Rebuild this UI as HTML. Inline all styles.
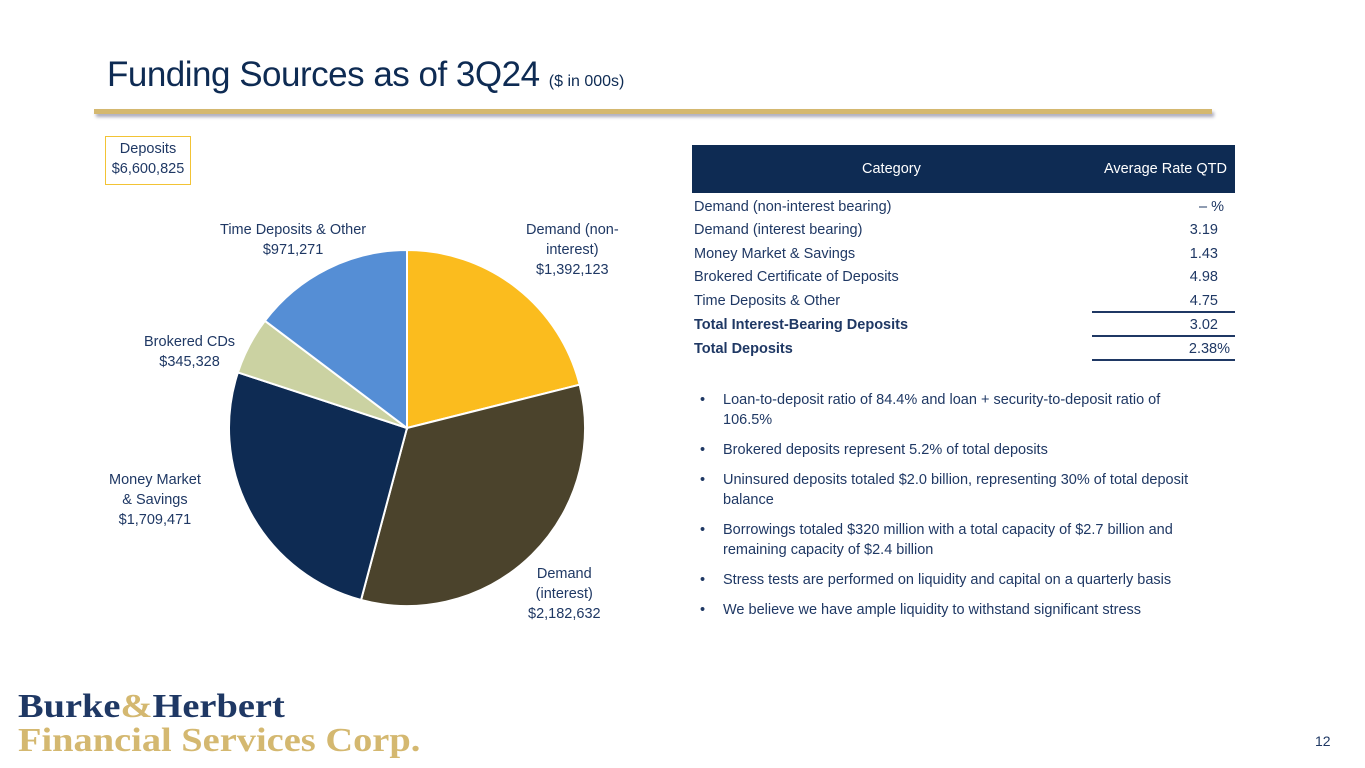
<!DOCTYPE html>
<html><head><meta charset="utf-8">
<style>
body{margin:0;width:1365px;height:768px;background:#fff;position:relative;overflow:hidden;font-family:"Liberation Sans",sans-serif;color:#1F3864}
.abs{position:absolute}
.lbl{position:absolute;font-size:14.5px;text-align:center;color:#1F3864;line-height:20px;white-space:nowrap}
.row{position:absolute;left:694px;width:536px;font-size:14.5px;height:20px;line-height:20px}
.row span{position:absolute;right:6px}
.ul{position:absolute;left:1092px;width:143px;height:2px;background:#1F3864}
ul{margin:0;padding:0;list-style:none}
li{position:relative;padding-left:29px;font-size:14.5px;line-height:20px;margin-bottom:10px;color:#1F3864}
li:before{content:"•";position:absolute;left:6px}
</style></head><body>
<div class="abs" style="left:107px;top:55px;font-size:35px;color:#0E2B53;white-space:nowrap;letter-spacing:-0.5px">Funding Sources as of 3Q24 <span style="font-size:16px;letter-spacing:0">($ in 000s)</span></div>
<div class="abs" style="left:94px;top:109px;width:1118px;height:5px;background:#D4B870;box-shadow:2px 3px 3px #aab"></div>
<div class="abs" style="left:105px;top:136px;width:84px;height:45px;border:1px solid #F2C335;font-size:14.5px;text-align:center;line-height:20px;padding-top:2px;white-space:nowrap">Deposits<br>$6,600,825</div>
<svg class="abs" style="left:0;top:0" width="1365" height="768"><g id="pie"></g></svg>
<div class="lbl" style="left:526px;top:220px">Demand (non-<br>interest)<br>$1,392,123</div>
<div class="lbl" style="left:528px;top:564px">Demand<br>(interest)<br>$2,182,632</div>
<div class="lbl" style="left:109px;top:470px">Money Market<br>&amp; Savings<br>$1,709,471</div>
<div class="lbl" style="left:144px;top:332px">Brokered CDs<br>$345,328</div>
<div class="lbl" style="left:220px;top:220px">Time Deposits &amp; Other<br>$971,271</div>

<div class="abs" style="left:692px;top:145px;width:543px;height:48px;background:#0E2B53;color:#fff;font-size:14.5px;line-height:48px">
<span style="position:absolute;left:170px">Category</span><span style="position:absolute;right:8px">Average Rate QTD</span></div>
<div class="row" style="top:197px">Demand (non-interest bearing)<span>– %</span></div>
<div class="row" style="top:220px">Demand (interest bearing)<span style="right:12px">3.19</span></div>
<div class="row" style="top:244px">Money Market &amp; Savings<span style="right:12px">1.43</span></div>
<div class="row" style="top:267px">Brokered Certificate of Deposits<span style="right:12px">4.98</span></div>
<div class="row" style="top:291px">Time Deposits &amp; Other<span style="right:12px">4.75</span></div>
<div class="ul" style="top:311px"></div>
<div class="row" style="top:315px;font-weight:bold">Total Interest-Bearing Deposits<span style="right:12px;font-weight:normal">3.02</span></div>
<div class="ul" style="top:335px"></div>
<div class="row" style="top:339px;font-weight:bold">Total Deposits<span style="right:0;font-weight:normal">2.38%</span></div>
<div class="ul" style="top:359px"></div>

<ul class="abs" style="left:694px;top:390px;width:512px">
<li>Loan-to-deposit ratio of 84.4% and loan + security-to-deposit ratio of 106.5%</li>
<li>Brokered deposits represent 5.2% of total deposits</li>
<li>Uninsured deposits totaled $2.0 billion, representing 30% of total deposit balance</li>
<li>Borrowings totaled $320 million with a total capacity of $2.7 billion and remaining capacity of $2.4 billion</li>
<li>Stress tests are performed on liquidity and capital on a quarterly basis</li>
<li>We believe we have ample liquidity to withstand significant stress</li>
</ul>

<div class="abs" style="left:18px;top:690px;font-family:'Liberation Serif',serif;font-weight:bold;font-size:34px;line-height:34px;letter-spacing:0;transform:scaleX(1.13);transform-origin:0 0;white-space:nowrap">
<div style="color:#1F3864">Burke<span style="color:#D4B870">&amp;</span>Herbert</div>
<div style="color:#D4B870">Financial Services Corp.</div></div>
<div class="abs" style="left:1315px;top:733px;font-size:14px">12</div>
<script>
const categories=["Demand (non-interest)","Demand (interest)","Money Market & Savings","Brokered CDs","Time Deposits & Other"];
const values=[1392123,2182632,1709471,345328,971271];
const colors=["#FBBC1E","#4B432C","#0E2B53","#CBD2A2","#558ED5"];
const cx=407,cy=428,r=178;
const g=document.getElementById('pie');
const total=values.reduce((a,b)=>a+b,0);
let a0=0;
values.forEach((v,i)=>{
 const a1=a0+v/total*2*Math.PI;
 const p=(a)=>[cx+r*Math.sin(a),cy-r*Math.cos(a)];
 const [x0,y0]=p(a0),[x1,y1]=p(a1);
 const el=document.createElementNS('http://www.w3.org/2000/svg','path');
 el.setAttribute('d',`M${cx},${cy}L${x0},${y0}A${r},${r} 0 ${a1-a0>Math.PI?1:0} 1 ${x1},${y1}Z`);
 el.setAttribute('fill',colors[i]);el.setAttribute('stroke','#fff');el.setAttribute('stroke-width','2');
 
 
 g.appendChild(el);a0=a1;
});
</script>
</body></html>
